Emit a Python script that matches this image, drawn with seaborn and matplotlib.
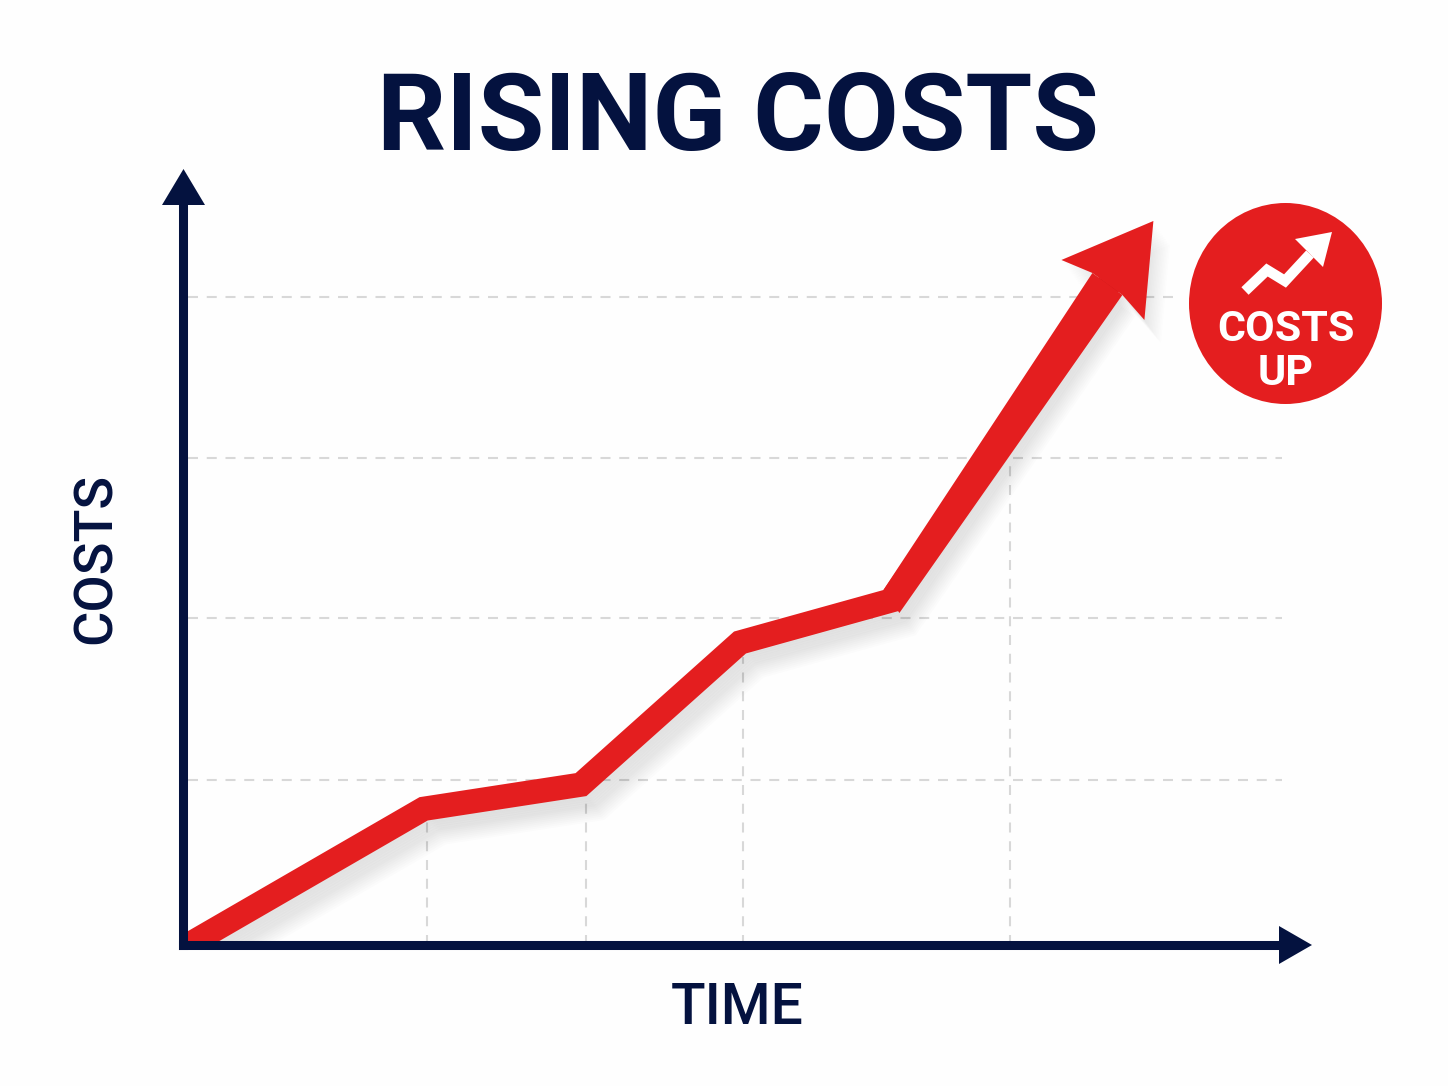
import numpy as np
import matplotlib
matplotlib.use('Agg')
import matplotlib.pyplot as plt
import matplotlib.patheffects as pe
from matplotlib.patches import Polygon, Ellipse
from matplotlib.transforms import IdentityTransform
import seaborn as sns

# Values (time unit = 1 step, costs unit = 1 gridline)
time = [0.0, 1.51, 2.50, 3.50, 4.45, 5.82]
costs = [-0.02, 0.84, 0.99, 1.87, 2.13, 4.09]
arrow_tip = (6.10, 4.48)
grid_costs = [1.02, 2.02, 3.01, 4.01]
grid_ends = [6.91, 6.91, 6.91, 6.26]
drop_times = [1.53, 2.53, 3.52, 5.20]
drop_tops = [0.76, 0.92, 1.78, 3.0]

NAVY = '#04123f'
RED = '#e41e1f'
GRID = '#d8d8d8'
FONT = 'Roboto'

sns.set_theme(style='white')
plt.rcParams['font.family'] = FONT

W, H = 1448, 1086
fig = plt.figure(figsize=(W / 100, H / 100), dpi=100, facecolor='#fefefe')

# axes box in pixels: left axis x=183.5, baseline y=944.5, right tip 1311, top tip 170
left, right, top, bottom = 183.5, 1311, 170, 944.5
x_unit, y_unit = 159, 161.5
ax = fig.add_axes([left / W, 1 - bottom / H, (right - left) / W, (bottom - top) / H])
ax.set_facecolor('none')
ax.set_xlim(0, (right - left) / x_unit)
ax.set_ylim(0, (bottom - top) / y_unit)
ax.set_xticks([])
ax.set_yticks([])
sns.despine(ax=ax)
for side in ['left', 'bottom']:
    ax.spines[side].set_color(NAVY)
    ax.spines[side].set_linewidth(6.5)
    ax.spines[side].set_visible(True)
# stop the axis lines under their arrow heads
ax.spines['bottom'].set_bounds(0, (1285 - left) / x_unit)
ax.spines['left'].set_bounds(0, (bottom - 200) / y_unit)

# dashed guides
dash = (0, (4.8, 4.2))
for y, x_end in zip(grid_costs, grid_ends):
    ax.plot([0.03, x_end], [y, y], color=GRID, lw=1.5, ls=dash, zorder=1)
for x, y_top in zip(drop_times, drop_tops):
    ax.plot([x, x], [0, y_top], color=GRID, lw=1.5, ls=dash, zorder=1)

# soft shadow built from stacked offset copies
shadow = [pe.SimpleLineShadow(offset=(1 + 1.0 * i, -1.5 - 1.4 * i), shadow_color='k',
                              alpha=0.012, linewidth=17.5 - i * 0.4) for i in range(14)]
sns.lineplot(x=time, y=costs, ax=ax, color=RED, linewidth=17.5, sort=False, estimator=None,
             solid_joinstyle='miter', solid_capstyle='butt', zorder=2,
             path_effects=shadow + [pe.Normal()])

# arrow head and its slightly tapered shaft, shapes are pixel offsets from the tip
fig.canvas.draw()
tip = ax.transData.transform(arrow_tip)
barbs = np.array([(0, 0), (-92, -39), (-61, -52), (-31, -74), (-9, -99)]) + tip
head_fx = [pe.SimplePatchShadow(offset=(1 + 1.0 * i, -1.5 - 1.4 * i), shadow_rgbFace='k',
                                alpha=0.007) for i in range(12)] + [pe.Normal()]
ax.add_patch(Polygon(barbs, closed=True, facecolor=RED, edgecolor='none', path_effects=head_fx,
                     transform=IdentityTransform(), zorder=2.2, clip_on=False))
shaft = np.array([(-61, -52), (-270, -369), (-254, -392), (-31, -74)]) + tip
ax.add_patch(Polygon(shaft, closed=True, facecolor=RED, edgecolor='none',
                     transform=IdentityTransform(), zorder=2.3, clip_on=False))


def px(x, y):
    # picture pixels to display coordinates
    return (x, H - y)


y_head = Polygon([px(183.5, 169), px(162, 205), px(205, 205)], closed=True, facecolor=NAVY,
                 edgecolor='none', transform=IdentityTransform(), clip_on=False, zorder=3)
x_head = Polygon([px(1312, 945), px(1279, 926), px(1279, 964)], closed=True, facecolor=NAVY,
                 edgecolor='none', transform=IdentityTransform(), clip_on=False, zorder=3)
fig.add_artist(y_head)
fig.add_artist(x_head)

# text
fig.text(738 / W, 1 - 150 / H, 'RISING COSTS', color=NAVY, fontsize=78, fontweight='bold',
         ha='center', va='baseline')
fig.text(96 / W, 1 - 558 / H, 'COSTS', color=NAVY, fontsize=39, fontweight='medium',
         rotation=90, ha='center', va='center')
fig.text(737 / W, 1 - 1024 / H, 'TIME', color=NAVY, fontsize=41, fontweight='medium',
         ha='center', va='baseline')

# badge
fig.add_artist(Ellipse(px(1285.5, 303.5), 193, 201, facecolor=RED, edgecolor='none',
                       transform=IdentityTransform(), zorder=3))
fig.text(1286 / W, 1 - 341 / H, 'COSTS', color='white', fontsize=31, fontweight='bold',
         ha='center', va='baseline', zorder=4)
fig.text(1286 / W, 1 - 385 / H, 'UP', color='white', fontsize=31, fontweight='bold',
         ha='center', va='baseline', zorder=4)
zig = plt.Line2D(*zip(px(1245, 291), px(1267, 270), px(1285, 281), px(1310, 254)), color='white',
                 lw=7.5, solid_joinstyle='miter', solid_capstyle='butt',
                 transform=IdentityTransform(), zorder=4)
fig.add_artist(zig)
fig.add_artist(Polygon([px(1332, 232), px(1295, 239), px(1323, 267)], closed=True, facecolor='white',
                       edgecolor='none', transform=IdentityTransform(), zorder=4))

fig.savefig('out.png', dpi=100, facecolor=fig.get_facecolor())
